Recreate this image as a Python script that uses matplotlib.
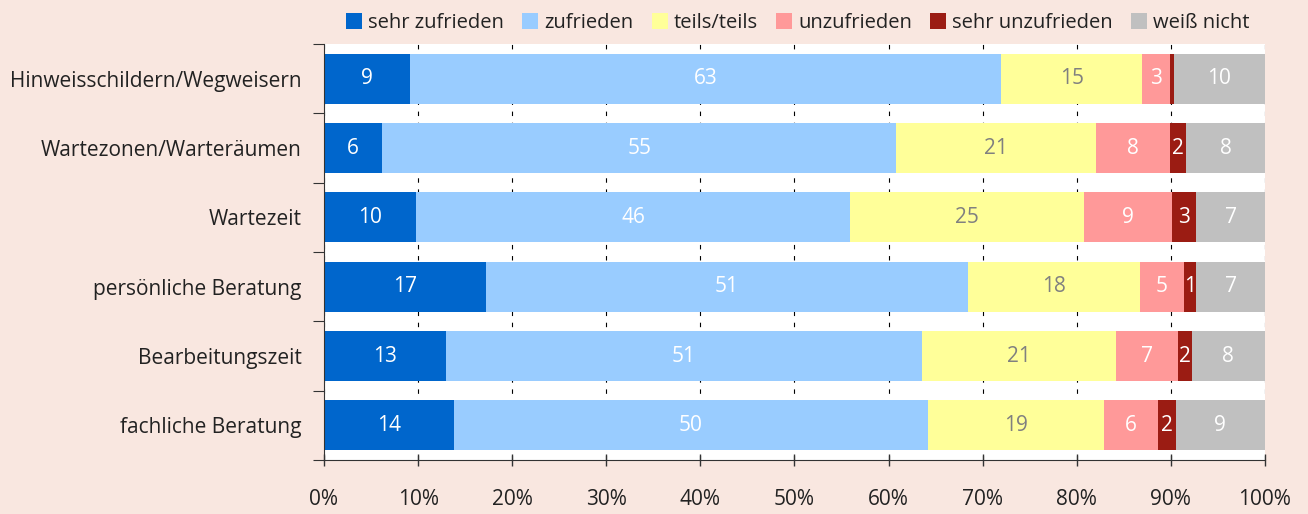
"""Zufriedenheit mit Aspekten des Besuchs - gestapelte Balken."""
import numpy as np
import matplotlib.pyplot as plt
from matplotlib import font_manager

categories = ["Hinweisschildern/Wegweisern", "Wartezonen/Warteräumen", "Wartezeit",
              "persönliche Beratung", "Bearbeitungszeit", "fachliche Beratung"]
series = ["sehr zufrieden", "zufrieden", "teils/teils", "unzufrieden",
          "sehr unzufrieden", "weiß nicht"]

sehr_zufrieden = [9.1, 6.2, 9.8, 17.2, 13.0, 13.8]
zufrieden = [62.9, 54.6, 46.1, 51.2, 50.5, 50.4]
teils = [14.9, 21.2, 24.9, 18.3, 20.7, 18.7]
unzufrieden = [3.0, 7.9, 9.3, 4.7, 6.6, 5.7]
sehr_unzufrieden = [0.4, 1.7, 2.6, 1.3, 1.4, 1.9]
weiss_nicht = [9.7, 8.4, 7.3, 7.3, 7.8, 9.5]

# printed labels (rounded), None = no label
labels = [
    [9, 6, 10, 17, 13, 14],
    [63, 55, 46, 51, 51, 50],
    [15, 21, 25, 18, 21, 19],
    [3, 8, 9, 5, 7, 6],
    [None, 2, 3, 1, 2, 2],
    [10, 8, 7, 7, 8, 9],
]

colors = ["#0066CC", "#99CCFF", "#FFFF99", "#FF9999", "#9B1C13", "#C0C0C0"]
text_colors = ["white", "white", "#808080", "white", "white", "white"]

installed = {f.name for f in font_manager.fontManager.ttflist}
fam = [f for f in ["Liberation Sans Narrow", "Open Sans", "DejaVu Sans"] if f in installed]
plt.rcParams["font.family"] = fam + ["DejaVu Sans"]
plt.rcParams["text.color"] = "#222222"

bg = "#F9E7E0"
fig = plt.figure(figsize=(13.08, 5.14), dpi=100, facecolor=bg)
ax = fig.add_axes([0.2477, 0.105, 0.7194, 0.8094])
ax.set_facecolor("white")

data = np.array([sehr_zufrieden, zufrieden, teils, unzufrieden, sehr_unzufrieden, weiss_nicht])
y = np.arange(len(categories))
left = np.zeros(len(categories))
handles = []
for i, vals in enumerate(data):
    b = ax.barh(y, vals, left=left, height=0.72, color=colors[i], label=series[i], zorder=2)
    handles.append(b)
    for j, v in enumerate(vals):
        lab = labels[i][j]
        if lab is not None:
            ax.text(left[j] + v / 2, y[j], str(lab), ha="center", va="center",
                    color=text_colors[i], fontsize=15, zorder=3)
    left += vals

ax.set_xlim(0, 100)
ax.set_ylim(len(categories) - 0.5, -0.5)
ax.set_xticks(np.arange(0, 101, 10))
ax.set_xticklabels([f"{v}%" for v in range(0, 101, 10)], fontsize=15, color="#222222")
ax.tick_params(axis="x", direction="inout", length=9, width=1, color="#333333", pad=16)
ax.xaxis.grid(True, color="black", linestyle=(0, (4, 6)), linewidth=0.8, zorder=0)

ax.set_yticks(np.arange(len(categories) + 1) - 0.5)
ax.set_yticklabels([])
ax.set_yticks(y, minor=True)
ax.set_yticklabels(categories, minor=True, fontsize=15, color="#222222")
ax.tick_params(axis="y", which="major", direction="out", length=8, color="#333333")
ax.tick_params(axis="y", which="minor", length=0, pad=16)

for s in ["top", "right"]:
    ax.spines[s].set_visible(False)
for s in ["left", "bottom"]:
    ax.spines[s].set_color("#333333")

fig.legend(handles=handles, loc="center", bbox_to_anchor=(0.61, 0.955), ncol=6,
           frameon=False, fontsize=14.5, handlelength=0.8, handleheight=0.8,
           handletextpad=0.3, columnspacing=0.9)

fig.savefig("out.png", dpi=100, facecolor=bg)
